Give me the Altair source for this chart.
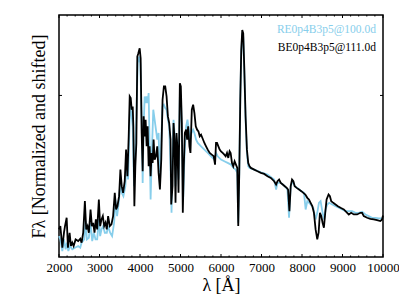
import altair as alt
import pandas as pd

# Black series: BE0p4B3p5@111.0d
be_wave = [2000, 2033, 2082, 2123, 2148, 2189, 2221, 2262, 2295, 2328, 2361, 2410, 2475, 2525, 2557, 2598,
           2639, 2672, 2705, 2738, 2779, 2812, 2844, 2877, 2910, 2943, 2984, 3016, 3049, 3082, 3115, 3148,
           3180, 3213, 3254, 3295, 3336, 3377, 3410, 3443, 3484, 3516, 3549, 3582, 3623, 3656, 3689, 3721,
           3746, 3771, 3795, 3820, 3836, 3861, 3885, 3910, 3934, 3959, 3992, 4016, 4041, 4066, 4090, 4115,
           4139, 4164, 4189, 4213, 4238, 4262, 4287, 4312, 4336, 4361, 4394, 4426, 4459, 4492, 4525, 4557,
           4590, 4623, 4656, 4689, 4721, 4754, 4771, 4803, 4828, 4853, 4877, 4902, 4926, 4951, 4984, 5008,
           5033, 5057, 5082, 5107, 5139, 5164, 5189, 5221, 5246, 5279, 5312, 5344, 5377, 5410, 5443, 5475,
           5508, 5541, 5590, 5631, 5672, 5721, 5771, 5820, 5853, 5877, 5902, 5935, 5967, 6000, 6041, 6082,
           6115, 6148, 6180, 6213, 6238, 6271, 6303, 6336, 6369, 6402, 6426, 6451, 6476, 6500, 6525, 6549,
           6574, 6607, 6640, 6672, 6705, 6738, 6820, 6902, 6984, 7066, 7148, 7230, 7312, 7361, 7394, 7435,
           7476, 7525, 7574, 7623, 7656, 7689, 7721, 7754, 7787, 7820, 7869, 7926, 7984, 8033, 8082, 8131,
           8172, 8213, 8254, 8295, 8336, 8377, 8410, 8443, 8476, 8508, 8541, 8574, 8607, 8656, 8689, 8722,
           8771, 8828, 8885, 8951, 9033, 9115, 9156, 9213, 9279, 9361, 9443, 9484, 9525, 9607, 9689, 9771,
           9853, 9935, 9976, 10000]
be_flux = [0.83, 0.93, 0.28, 0.73, 0.93, 1.18, 0.28, 0.73, 0.33, 0.43, 0.33, 0.53, 0.48, 0.55, 0.43, 0.73,
           1.68, 0.83, 0.93, 0.73, 1.43, 0.93, 1.03, 0.73, 1.13, 0.83, 1.73, 0.93, 1.13, 1.23, 0.93, 1.03,
           0.83, 1.23, 0.93, 0.98, 1.23, 1.93, 1.43, 1.53, 1.83, 2.63, 2.13, 1.93, 2.28, 3.23, 2.43, 3.63,
           4.83, 4.78, 4.43, 4.53, 3.93, 1.53, 2.73, 3.43, 6.03, 6.13, 6.28, 5.98, 3.73, 2.58, 4.23, 3.63,
           4.13, 3.33, 3.93, 2.73, 3.33, 2.43, 3.13, 2.83, 3.53, 2.93, 3.03, 3.33, 2.53, 2.03, 2.93, 4.73,
           5.13, 5.13, 4.83, 4.23, 4.03, 3.53, 1.58, 2.13, 4.03, 3.53, 1.63, 3.73, 3.23, 1.93, 5.23, 5.13,
           4.03, 1.33, 2.73, 3.73, 3.83, 3.53, 3.93, 3.33, 3.13, 4.43, 4.58, 4.33, 3.93, 3.83, 3.78, 3.63,
           3.68, 3.58, 3.43, 3.33, 3.23, 3.13, 3.08, 3.03, 2.78, 3.43, 3.43, 3.33, 3.23, 3.18, 3.13, 3.08,
           3.03, 3.13, 2.98, 3.18, 3.13, 2.83, 2.73, 2.88, 2.78, 2.68, 0.93, 2.53, 4.73, 6.23, 6.83, 6.73,
           5.73, 4.23, 3.23, 2.83, 2.73, 2.68, 2.63, 2.58, 2.53, 2.50, 2.43, 2.38, 2.28, 2.18, 2.28, 2.33,
           2.23, 2.18, 2.13, 2.08, 2.03, 1.38, 2.13, 2.33, 2.28, 2.13, 2.08, 2.03, 1.98, 1.93, 1.88, 1.78,
           1.73, 1.63, 1.53, 1.33, 0.83, 0.53, 0.73, 1.33, 1.23, 1.03, 0.88, 1.33, 1.73, 1.88, 1.83, 1.68,
           1.63, 1.58, 1.53, 1.48, 1.43, 1.33, 1.28, 1.33, 1.28, 1.28, 1.33, 1.33, 1.23, 1.18, 1.15, 1.13,
           1.11, 1.08, 1.13, 1.25]

# Light blue series: RE0p4B3p5@100.0d
re_wave = [2000, 2033, 2082, 2123, 2164, 2197, 2230, 2270, 2328, 2393, 2475, 2525, 2557, 2623, 2656, 2689,
           2738, 2779, 2820, 2861, 2902, 2943, 2984, 3016, 3049, 3090, 3131, 3180, 3213, 3262, 3311, 3361,
           3393, 3434, 3475, 3516, 3549, 3590, 3639, 3672, 3705, 3730, 3754, 3787, 3820, 3852, 3877, 3910,
           3943, 3975, 4008, 4041, 4066, 4090, 4115, 4139, 4164, 4189, 4213, 4238, 4262, 4295, 4328, 4361,
           4394, 4426, 4459, 4492, 4525, 4557, 4590, 4623, 4656, 4689, 4721, 4754, 4779, 4803, 4828, 4853,
           4877, 4902, 4926, 4951, 4984, 5016, 5041, 5066, 5098, 5139, 5172, 5205, 5238, 5271, 5312, 5344,
           5385, 5426, 5508, 5590, 5672, 5754, 5836, 5877, 5918, 6000, 6082, 6164, 6246, 6311, 6361, 6402,
           6426, 6451, 6476, 6500, 6525, 6549, 6574, 6607, 6640, 6672, 6705, 6820, 6984, 7148, 7312, 7361,
           7394, 7476, 7574, 7640, 7680, 7721, 7771, 7820, 7885, 7984, 8049, 8090, 8131, 8213, 8279, 8336,
           8377, 8418, 8459, 8508, 8549, 8582, 8623, 8672, 8746, 8828, 8910, 8992, 9074, 9156, 9238, 9320,
           9402, 9484, 9566, 9648, 9730, 9812, 9894, 9976]
re_flux = [0.63, 0.53, 0.18, 0.53, 0.23, 0.43, 0.18, 0.33, 0.23, 0.28, 0.33, 0.28, 0.43, 0.53, 1.08, 0.53,
           0.58, 1.03, 0.48, 0.73, 0.53, 0.53, 1.13, 0.63, 0.83, 0.93, 0.73, 0.73, 0.93, 0.73, 0.63, 1.03,
           1.73, 1.23, 1.63, 2.23, 1.93, 1.83, 2.13, 3.03, 2.33, 3.43, 4.53, 4.33, 3.93, 2.13, 3.03, 4.23,
           5.83, 6.03, 5.83, 4.23, 2.23, 3.93, 4.83, 4.63, 4.83, 4.63, 4.93, 3.33, 1.73, 3.23, 4.43, 4.13,
           3.83, 3.53, 3.73, 2.13, 3.53, 4.53, 4.58, 4.48, 4.43, 4.13, 3.93, 2.73, 1.33, 3.23, 4.13, 3.73,
           2.13, 3.53, 3.43, 2.33, 4.83, 4.53, 3.53, 1.73, 3.03, 3.93, 4.13, 3.83, 3.53, 3.73, 3.83, 3.73,
           3.53, 3.43, 3.33, 3.23, 3.13, 3.03, 2.93, 3.13, 3.03, 2.93, 2.88, 2.83, 2.78, 2.68, 2.63, 2.53,
           1.03, 2.53, 4.73, 6.13, 6.73, 6.63, 5.63, 4.13, 3.13, 2.73, 2.68, 2.63, 2.55, 2.48, 2.33, 2.03,
           2.23, 2.23, 2.13, 2.03, 1.18, 2.13, 2.28, 2.13, 2.08, 1.98, 1.93, 1.43, 1.68, 1.58, 1.48, 1.13,
           1.33, 1.63, 1.68, 1.33, 1.13, 1.43, 1.58, 1.63, 1.58, 1.53, 1.48, 1.43, 1.38, 1.38, 1.38, 1.33,
           1.33, 1.36, 1.28, 1.23, 1.18, 1.18, 1.16, 1.16]

series_names = ["RE0p4B3p5@100.0d", "BE0p4B3p5@111.0d"]
series_colors = ["#87ceeb", "#000000"]

x_major = [2000, 3000, 4000, 5000, 6000, 7000, 8000, 9000, 10000]
x_minor = [v for v in range(2200, 10000, 200) if v % 1000 != 0]
y_major = [4.86]

W, H = 324, 242
FONT = "'Liberation Serif', 'Times New Roman', 'DejaVu Serif', serif"

be_df = pd.DataFrame({"wave": be_wave, "flux": be_flux})
re_df = pd.DataFrame({"wave": re_wave, "flux": re_flux})

xs = alt.Scale(domain=[2000, 10000], nice=False, zero=False)
ys = alt.Scale(domain=[0, 7.28], nice=False, zero=False)

x_axis = alt.Axis(values=x_major, format="d", ticks=False, domain=False, grid=False,
                  labelOverlap=False, labelFlush=False,
                  labelFont=FONT, labelFontSize=13, labelColor="black", labelPadding=4,
                  title="λ [Å]", titleFont=FONT, titleFontSize=18, titleFontWeight="normal",
                  titleColor="black", titlePadding=2)
y_axis = alt.Axis(values=y_major, labels=False, ticks=False, domain=False, grid=False,
                  title="Fλ [Normalized and shifted]", titleFont=FONT, titleFontSize=18,
                  titleFontWeight="normal", titleColor="black", titlePadding=11)

blue = alt.Chart(re_df).mark_line(color=series_colors[0], strokeWidth=1.8).encode(
    x=alt.X("wave:Q", scale=xs, axis=x_axis),
    y=alt.Y("flux:Q", scale=ys, axis=y_axis),
)
black = alt.Chart(be_df).mark_line(color=series_colors[1], strokeWidth=1.8).encode(
    x=alt.X("wave:Q", scale=xs),
    y=alt.Y("flux:Q", scale=ys),
)

xmaj_df = pd.DataFrame({"v": x_major})
xmin_df = pd.DataFrame({"v": x_minor})
ymaj_df = pd.DataFrame({"v": y_major})

tick_layers = []
for df, ln in [(xmaj_df, 3), (xmin_df, 1.5)]:
    tick_layers.append(alt.Chart(df).mark_rule(color="black", strokeWidth=1).encode(
        x=alt.X("v:Q", scale=xs), y=alt.value(H), y2=alt.value(H - ln)))
    tick_layers.append(alt.Chart(df).mark_rule(color="black", strokeWidth=1).encode(
        x=alt.X("v:Q", scale=xs), y=alt.value(0), y2=alt.value(ln)))
tick_layers.append(alt.Chart(ymaj_df).mark_rule(color="black", strokeWidth=1).encode(
    y=alt.Y("v:Q", scale=ys), x=alt.value(0), x2=alt.value(3)))
tick_layers.append(alt.Chart(ymaj_df).mark_rule(color="black", strokeWidth=1).encode(
    y=alt.Y("v:Q", scale=ys), x=alt.value(W - 3), x2=alt.value(W)))

leg_df = pd.DataFrame({"name": series_names, "color": series_colors, "ypix": [15, 33]})
legend = alt.Chart(leg_df).mark_text(align="right", baseline="middle", font=FONT,
                                     fontSize=11.5).encode(
    x=alt.value(W - 7),
    y=alt.Y("ypix:Q", scale=None),
    text="name:N",
    color=alt.Color("color:N", scale=None),
)

chart = alt.layer(blue, black, *tick_layers, legend).properties(
    width=W, height=H,
    autosize=alt.AutoSizeParams(type="none"),
    padding={"left": 51, "top": 7, "right": 16, "bottom": 40},
    background="white",
).configure_view(stroke="black", strokeWidth=1.5)

chart.save("out.html", embed_options={"renderer": "svg", "actions": False})
